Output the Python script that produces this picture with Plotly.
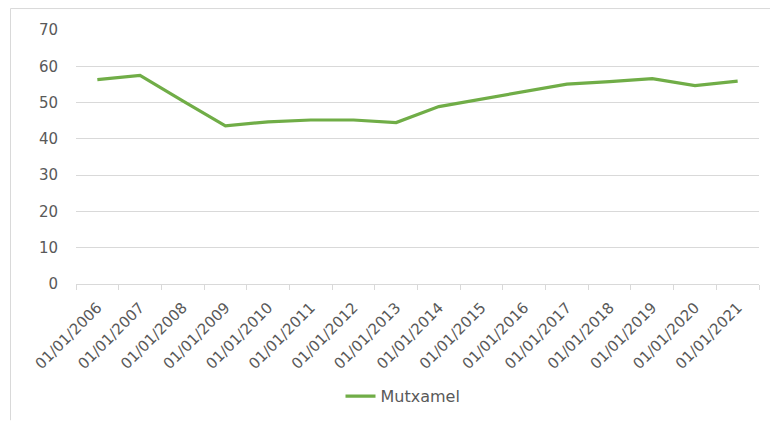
import plotly.graph_objects as go

categories = ["01/01/2006", "01/01/2007", "01/01/2008", "01/01/2009", "01/01/2010",
              "01/01/2011", "01/01/2012", "01/01/2013", "01/01/2014", "01/01/2015",
              "01/01/2016", "01/01/2017", "01/01/2018", "01/01/2019", "01/01/2020",
              "01/01/2021"]
mutxamel = [56.3, 57.5, 50.5, 43.6, 44.7, 45.2, 45.2, 44.5, 48.9, 51.0,
            52.9, 55.1, 55.8, 56.6, 54.7, 55.9]
y_ticks = [0, 10, 20, 30, 40, 50, 60, 70]

W, H = 770, 421
L, R, T, B = 76, 11, 30, 136.5
pw, ph = W - L - R, H - T - B

def px(x):
    return (x - L) / pw

def py(y):
    return (H - B - y) / ph

TEXT = "#595959"
GRID = "#D9D9D9"
FONT = "DejaVu Sans, Verdana, sans-serif"

fig = go.Figure()
fig.add_trace(go.Scatter(
    x=categories, y=mutxamel, mode="lines", name="Mutxamel",
    line=dict(color="#70AD47", width=3.2),
))

fig.update_layout(
    width=W, height=H,
    margin=dict(l=L, r=R, t=T, b=B, autoexpand=False),
    paper_bgcolor="white", plot_bgcolor="white",
    font=dict(family=FONT, size=15, color=TEXT),
    showlegend=True,
    legend=dict(orientation="h", x=px(403), xanchor="center", y=py(397), yanchor="middle",
                font=dict(size=16, color=TEXT), bgcolor="rgba(0,0,0,0)"),
    xaxis=dict(type="category", categoryorder="array", categoryarray=categories,
               range=[-0.5, len(categories) - 0.5], automargin=False,
               tickson="boundaries", ticks="outside", ticklen=5, tickcolor=GRID,
               showline=True, linecolor=GRID, linewidth=1, showgrid=False,
               tickangle=-45, ticklabelstandoff=8,
               tickfont=dict(size=15, color=TEXT), zeroline=False),
    yaxis=dict(range=[0, 70], tickvals=y_ticks, showgrid=True, gridcolor=GRID, gridwidth=1,
               showline=False, zeroline=False, ticks="", ticklabelstandoff=17, automargin=False,
               tickfont=dict(size=15, color=TEXT)),
    shapes=[
        dict(type="line", xref="paper", yref="paper", x0=px(10.5), x1=px(770), y0=py(8.5), y1=py(8.5),
             line=dict(color=GRID, width=1)),
        dict(type="line", xref="paper", yref="paper", x0=px(10.5), x1=px(10.5), y0=py(8.5), y1=py(421),
             line=dict(color=GRID, width=1)),
    ],
)

fig.write_html("out.html", config={"displayModeBar": False},
               post_script="document.body.style.margin='0';document.body.style.padding='0';")
